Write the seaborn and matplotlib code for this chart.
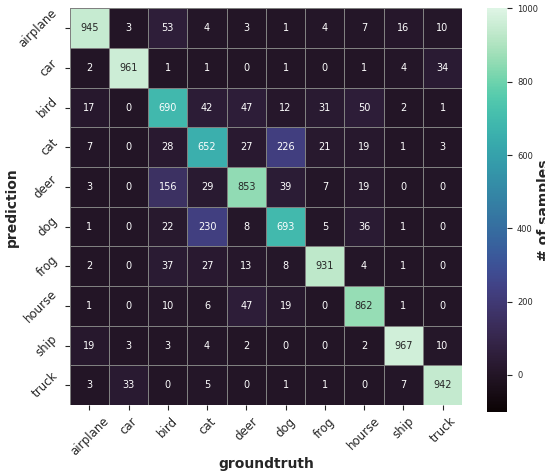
import numpy as np
import pandas as pd
import matplotlib
matplotlib.use('Agg')
import matplotlib.pyplot as plt
import seaborn as sns

classes = ['airplane', 'car', 'bird', 'cat', 'deer', 'dog', 'frog', 'hourse', 'ship', 'truck']

row_airplane = [945, 3, 53, 4, 3, 1, 4, 7, 16, 10]
row_car = [2, 961, 1, 1, 0, 1, 0, 1, 4, 34]
row_bird = [17, 0, 690, 42, 47, 12, 31, 50, 2, 1]
row_cat = [7, 0, 28, 652, 27, 226, 21, 19, 1, 3]
row_deer = [3, 0, 156, 29, 853, 39, 7, 19, 0, 0]
row_dog = [1, 0, 22, 230, 8, 693, 5, 36, 1, 0]
row_frog = [2, 0, 37, 27, 13, 8, 931, 4, 1, 0]
row_hourse = [1, 0, 10, 6, 47, 19, 0, 862, 1, 0]
row_ship = [19, 3, 3, 4, 2, 0, 0, 2, 967, 10]
row_truck = [3, 33, 0, 5, 0, 1, 1, 0, 7, 942]

cm = pd.DataFrame([row_airplane, row_car, row_bird, row_cat, row_deer,
                   row_dog, row_frog, row_hourse, row_ship, row_truck],
                  index=classes, columns=classes)

sns.set_style('ticks')

fig = plt.figure(figsize=(5.45, 4.72), dpi=100)
ax = fig.add_axes([0.128, 0.142, 0.72, 0.84])
cax = fig.add_axes([0.893, 0.128, 0.038, 0.854])

sns.heatmap(cm, annot=True, fmt='d', cmap='mako', vmin=-100, vmax=1000,
            linewidths=0.5, linecolor='gray', ax=ax, cbar_ax=cax,
            annot_kws={'size': 7})

ax.set_xticklabels(classes, rotation=45, fontsize=8.5)
ax.set_yticklabels(classes, rotation=45, fontsize=8.5)
ax.set_xlabel('groundtruth', fontsize=10, fontweight='bold', labelpad=-1)
ax.set_ylabel('prediction', fontsize=10, fontweight='bold', labelpad=-2)

cax.tick_params(labelsize=6)
cax.set_ylabel('# of samples', fontsize=10, fontweight='bold', labelpad=-1)

fig.savefig('out.png', dpi=100)
